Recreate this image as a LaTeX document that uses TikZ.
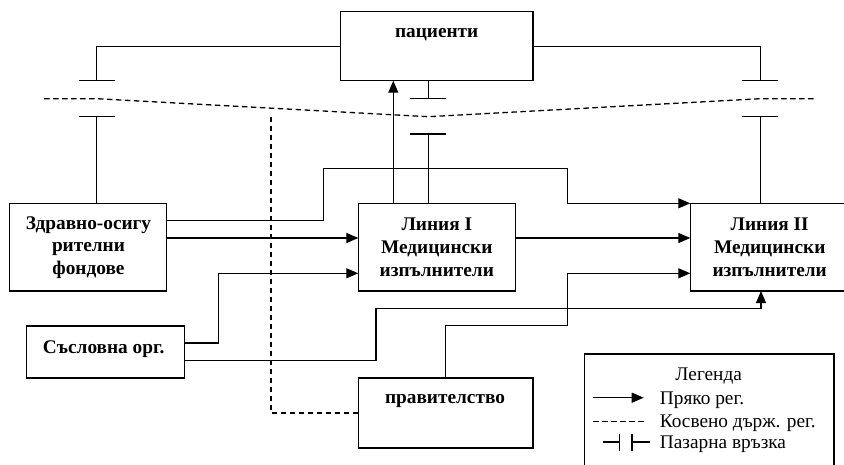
\documentclass[tikz,border=0pt]{standalone}
\usepackage{fontspec}
\setmainfont{Liberation Serif}
\usetikzlibrary{arrows.meta}
\begin{document}
\begin{tikzpicture}[x=1pt,y=-1pt,line width=1.3pt,
  box/.style={draw,inner sep=0pt,outer sep=0pt,line width=1.3pt},
  btxt/.style={font=\fontsize{19.3}{22.8}\selectfont\bfseries,align=center,inner sep=0pt},
  ltxt/.style={font=\fontsize{19.3}{22.8}\selectfont,anchor=west,inner sep=0pt},
  arr/.style={-{Triangle[length=12pt,width=10pt]}},
  dsh/.style={dash pattern=on 5.5pt off 3.5pt},
  plate/.style={line width=1.3pt}]
\useasboundingbox (0,0) rectangle (844,464);
\clip (0,0) rectangle (844,464);
% boxes
\node[box,minimum width=192.3pt,minimum height=69pt] (pat) at (436.85,46.2) {};
\node[box,minimum width=157.4pt,minimum height=87.7pt] (zdr) at (88,247.15) {};
\node[box,minimum width=157pt,minimum height=87.7pt] (l1) at (436.8,247.15) {};
\node[box,minimum width=158.7pt,minimum height=87.7pt] (l2) at (769.65,247.15) {};
\node[box,minimum width=157.6pt,minimum height=52pt] (sas) at (105.5,352) {};
\node[box,minimum width=174.7pt,minimum height=70pt] (gov) at (445.65,413) {};
\node[box,minimum width=249.3pt,minimum height=126pt] (leg) at (709.35,417) {};
% texts
\node[btxt] (patT) at (436.7,35) {пациенти};
\node[btxt] (zdrT) at (88.5,247.5) {Здравно-осигу\\рителни\\фондове};
\node[btxt] (l1T) at (436.8,247.5) {Линия I\\Медицински\\изпълнители};
\node[btxt] (l2T) at (769.7,247.5) {Линия II\\Медицински\\изпълнители};
\node[btxt] (sasT) at (103.7,349.5) {Съсловна орг.};
\node[btxt] (govT) at (445,401.5) {правителство};
% coordinates
\coordinate (cL1) at (96.7,80.7);
\coordinate (cL2) at (96.7,116.3);
\coordinate (cR1) at (760.3,80.7);
\coordinate (cR2) at (760.3,116.3);
\coordinate (cC1) at (428.3,98.7);
\coordinate (cC2) at (428.3,134);
\coordinate (xA) at (393.3,0);
\coordinate (xB) at (761,0);
\coordinate (y1) at (0,220.7);
\coordinate (y2) at (0,238);
\coordinate (y3) at (0,273.3);
\coordinate (y4) at (0,343);
\coordinate (y5) at (0,360.3);
% market links (plates)
\draw (pat.west) -| (cL1);
\draw[plate] (cL1) ++(-18,0) -- ++(36,0);
\draw[plate] (cL2) ++(-18,0) -- ++(36,0);
\draw (cL2) -- (cL2 |- zdr.north);
\draw (pat.east) -| (cR1);
\draw[plate] (cR1) ++(-18,0) -- ++(36,0);
\draw[plate] (cR2) ++(-18,0) -- ++(36,0);
\draw (cR2) -- (cR2 |- l2.north);
\draw (cC1 |- pat.south) -- (cC1);
\draw[plate] (cC1) ++(-18,0) -- ++(36,0);
\draw[plate] (cC2) ++(-18,0) -- ++(36,0);
\draw (cC2) -- (cC2 |- l1.north);
% dashed market border
\coordinate (dl) at (44,98.7);
\coordinate (dL) at (96.7,98.7);
\coordinate (dC) at (428.3,116.7);
\coordinate (dR) at (760.3,98.7);
\coordinate (dr) at (813.7,98.7);
\draw[dsh] (dl) -- (dL) -- (dC) -- (dR) -- (dr);
% direct regulation
\draw[arr] (l1.north -| xA) -- (pat.south -| xA);
\coordinate (k1) at (323.3,168.3);
\coordinate (k2) at (567.7,203.3);
\draw[arr] (zdr.east |- y1) -| (k1) -| (k2) -- (l2.north west);
\draw[arr] (zdr.east |- y2) -- (l1.west |- y2);
\draw[arr] (l1.east |- y2) -- (l2.west |- y2);
\coordinate (k3) at (218.3,273.3);
\draw[arr] (sas.east |- y4) -| (k3) -- (l1.west |- y3);
\coordinate (k4) at (376,308.3);
\draw[arr] (sas.east |- y5) -| (k4) -| (l2.south -| xB);
\coordinate (k5) at (567.7,325.7);
\draw[arr] (gov.north) |- (k5) |- (l2.west |- y3);
% indirect state regulation
\coordinate (dtop) at (271,117);
\draw[dsh,dash pattern=on 5pt off 4pt] (gov.west) -| (dtop);
% legend
\node[font=\fontsize{19.3}{22.8}\selectfont,inner sep=0pt] (legT) at (708.7,376.5) {Легенда};
\coordinate (a1) at (593,397.7);
\coordinate (a2) at (643.7,397.7);
\draw[arr] (a1) -- (a2);
\node[ltxt] (t1) at (659.3,400) {Пряко рег.};
\coordinate (b1) at (593.3,421);
\coordinate (b2) at (646.7,421);
\draw[dash pattern=on 5.5pt off 3.5pt,line width=1pt] (b1) -- (b2);
\node[ltxt] (t2) at (659.3,423.5) {Косвено държ. рег.};
\coordinate (c1) at (602.7,442);
\coordinate (c2) at (619.7,442);
\coordinate (c3) at (632,442);
\coordinate (c4) at (649.7,442);
\draw (c1) -- (c2);
\draw (c2) ++(0,-8.5) -- ++(0,17);
\draw (c3) ++(0,-8.5) -- ++(0,17);
\draw (c3) -- (c4);
\node[ltxt] (t3) at (659.3,444.5) {Пазарна връзка};
\end{tikzpicture}
\end{document}
